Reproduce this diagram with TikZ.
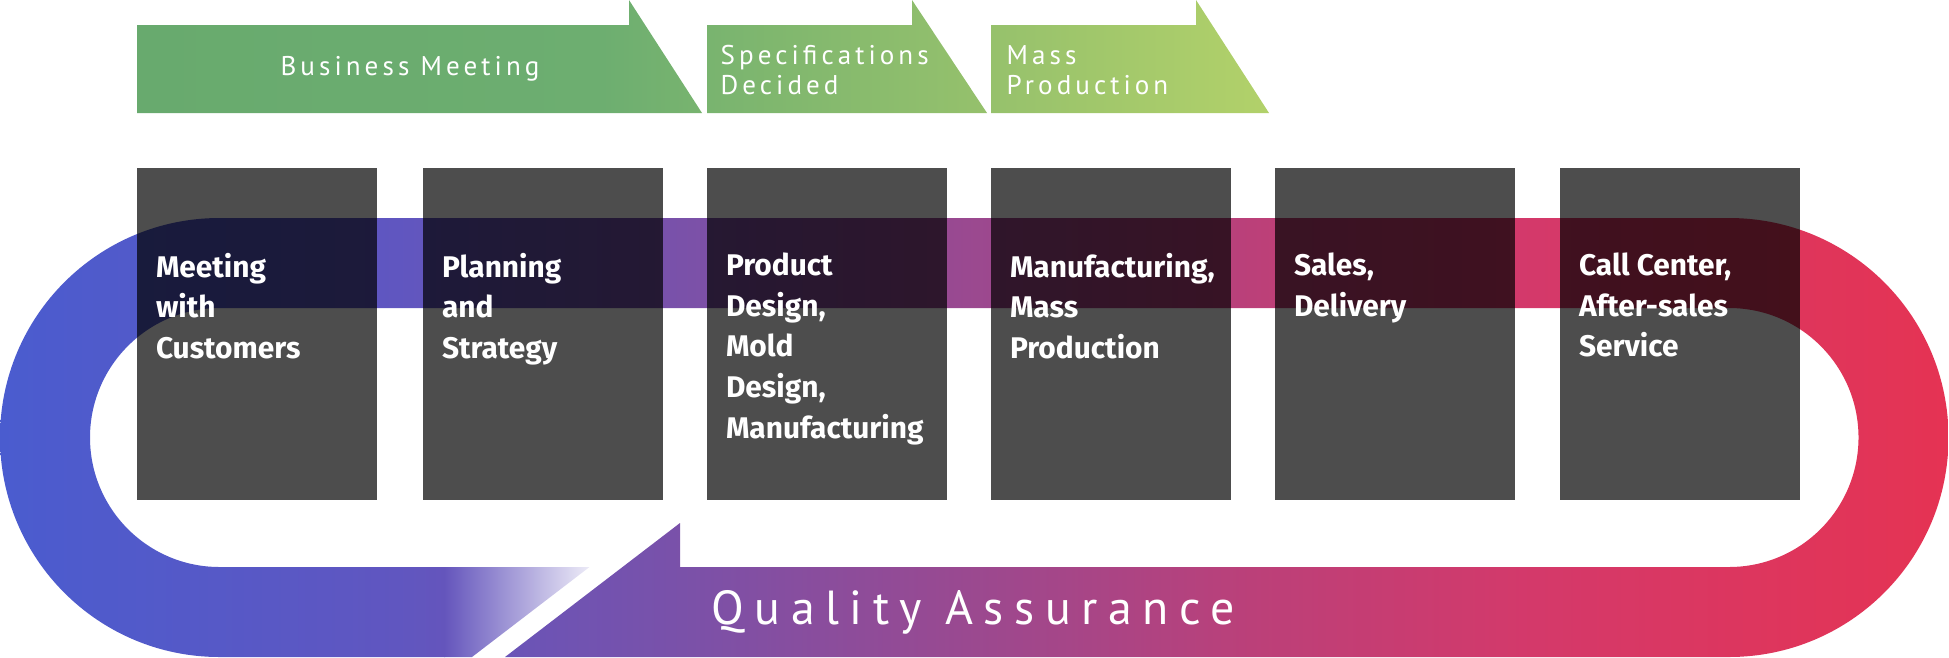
\documentclass[tikz,border=0pt]{standalone}
\usepackage{fontspec}
\setsansfont{Fira Sans}
\newfontfamily\tabfont[LetterSpace=15]{PT Sans}
\newfontfamily\qafont[LetterSpace=22]{PT Sans}
\usepackage{xcolor}
\usepackage{tikz}
\usetikzlibrary{positioning, shadings, calc}

\definecolor{boxgray}{HTML}{4D4D4D}
\definecolor{loopA}{HTML}{4A5CCF}
\definecolor{loopB}{HTML}{6056C0}
\definecolor{loopC}{HTML}{7A51A9}
\definecolor{loopD}{HTML}{9A4990}
\definecolor{loopE}{HTML}{BB4079}
\definecolor{loopF}{HTML}{D4396A}
\definecolor{loopG}{HTML}{E53353}
\definecolor{tailc}{HTML}{6455BC}
\definecolor{tabA}{HTML}{68AA6E}
\definecolor{tabB}{HTML}{6DAE70}
\definecolor{tabC}{HTML}{79B46F}
\definecolor{tabD}{HTML}{96C16C}
\definecolor{tabE}{HTML}{B2D16A}

\pgfdeclarehorizontalshading{qaloop}{100bp}{color(0bp)=(loopA); color(25bp)=(loopA); color(35.2bp)=(loopB); color(42.5bp)=(loopC); color(49.8bp)=(loopD); color(57.1bp)=(loopE); color(64.4bp)=(loopF); color(75bp)=(loopG); color(100bp)=(loopG)}
\pgfdeclarehorizontalshading{tabgreen}{100bp}{color(0bp)=(tabA); color(25bp)=(tabA); color(45.5bp)=(tabB); color(50.3bp)=(tabC); color(62.7bp)=(tabD); color(75bp)=(tabE); color(100bp)=(tabE)}

\begin{document}
\begin{tikzpicture}[
        stagebox/.style={rectangle, fill=boxgray, minimum width=2.4cm, minimum height=3.32cm, inner sep=0pt},
        stagetext/.style={text=white, align=left, inner sep=0pt, font=\sffamily\bfseries\fontsize{8.5}{11.55}\selectfont},
        tabtext/.style={text=white, align=left, inner sep=0pt, font=\tabfont\fontsize{7.7}{8.5}\selectfont}
    ]
    \useasboundingbox (0,0) rectangle (19.49,6.57);

    % Phase tabs
    \shade[shading=tabgreen] (1.37,5.44) -- (1.37,6.32) -- (6.29,6.32) -- (6.29,6.57) -- (7.02,5.44) -- cycle
        (7.07,5.44) -- (7.07,6.32) -- (9.12,6.32) -- (9.12,6.57) -- (9.87,5.44) -- cycle
        (9.91,5.44) -- (9.91,6.32) -- (11.96,6.32) -- (11.96,6.57) -- (12.69,5.44) -- cycle;
    \node[tabtext] (business_txt) at (4.10,5.88) {Business Meeting};
    \node[tabtext, anchor=west] (spec_txt) at (7.20,5.87) {Specifications\\Decided};
    \node[tabtext, anchor=west] (mass_txt) at (10.06,5.87) {Mass\\Production};

    % Quality loop
    \shade[shading=qaloop] (5.05,0) -- (17.29,0) arc[start angle=-90, end angle=90, radius=2.195]
        -- (2.195,4.39) arc[start angle=90, end angle=270, radius=2.195] -- (4.45,0) -- (4.45,0.9)
        -- (2.195,0.9) arc[start angle=270, end angle=90, radius=1.295]
        -- (17.29,3.49) arc[start angle=90, end angle=-90, radius=1.295]
        -- (6.80,0.9) -- (6.80,1.34) -- cycle;
    \shade[left color=tailc, right color=tailc!12] (4.44,0) -- (4.72,0) -- (5.895,0.9) -- (4.44,0.9) -- cycle;
    \node[text=white, inner sep=0pt, font=\qafont\fontsize{13.6}{15}\selectfont] (qa_txt) at (9.73,0.45) {Quality Assurance};

    % Stages
    \begin{scope}[blend mode=multiply]
    \node[stagebox] (meet) at (2.57,3.23) {};
    \node[stagebox] (plan) at (5.43,3.23) {};
    \node[stagebox] (design) at (8.27,3.23) {};
    \node[stagebox] (mfg) at (11.11,3.23) {};
    \node[stagebox] (sales) at (13.95,3.23) {};
    \node[stagebox] (call) at (16.80,3.23) {};
    \end{scope}

    \node[stagetext, below right=0.85 and 0.19 of meet.north west] (meet_txt) {Meeting\\with\\Customers};
    \node[stagetext, below right=0.85 and 0.19 of plan.north west] (plan_txt) {Planning\\and\\Strategy};
    \node[stagetext, below right=0.85 and 0.19 of design.north west] (design_txt) {Product\\Design,\\Mold\\Design,\\Manufacturing};
    \node[stagetext, below right=0.85 and 0.19 of mfg.north west] (mfg_txt) {Manufacturing,\\Mass\\Production};
    \node[stagetext, below right=0.85 and 0.19 of sales.north west] (sales_txt) {Sales,\\Delivery};
    \node[stagetext, below right=0.85 and 0.19 of call.north west] (call_txt) {Call Center,\\After-sales\\Service};

\end{tikzpicture}
\end{document}
